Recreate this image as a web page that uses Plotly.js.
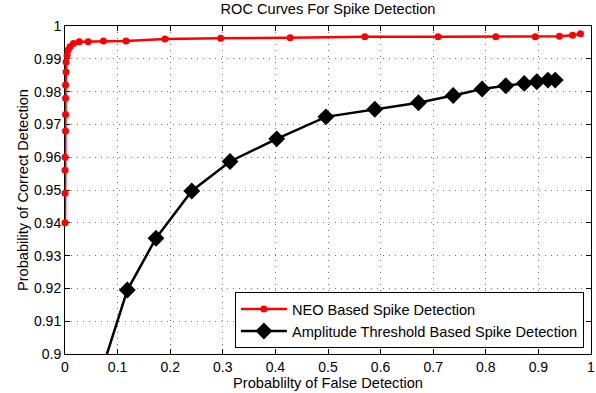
<!DOCTYPE html>
<html>
<head>
<meta charset="utf-8">
<script src="https://cdn.plot.ly/plotly-3.0.1.min.js"></script>
<style>html,body{margin:0;padding:0;background:#fff;}#chart{width:596px;height:393px;}</style>
</head>
<body>
<div id="chart"></div>
<script>
const neoX = [0,0,0,0,0.001,0.001,0.001,0.001,0.002,0.002,0.004,0.006,0.0095,0.016,0.027,0.044,0.073,0.116,0.19,0.296,0.428,0.570,0.709,0.819,0.894,0.940,0.965,0.980];
const neoY = [0.940,0.949,0.956,0.960,0.968,0.973,0.978,0.982,0.986,0.989,0.991,0.9927,0.9937,0.9947,0.9952,0.9952,0.9954,0.9954,0.9960,0.9963,0.9964,0.9967,0.9967,0.9967,0.9967,0.9969,0.9972,0.9976];
const ampX = [0.04,0.1185,0.173,0.241,0.3137,0.4025,0.496,0.589,0.672,0.738,0.793,0.838,0.873,0.897,0.918,0.932];
const ampY = [0.88,0.9195,0.9353,0.9497,0.9587,0.9656,0.9723,0.9746,0.9766,0.9788,0.9808,0.9818,0.9825,0.9830,0.9835,0.9835];
const xTickVals = [0,0.1,0.2,0.3,0.4,0.5,0.6,0.7,0.8,0.9,1];
const xTickText = ["0","0.1","0.2","0.3","0.4","0.5","0.6","0.7","0.8","0.9","1"];
const yTickVals = [0.9,0.91,0.92,0.93,0.94,0.95,0.96,0.97,0.98,0.99,1];
const yTickText = ["0.9","0.91","0.92","0.93","0.94","0.95","0.96","0.97","0.98","0.99","1"];

const fam = '"Liberation Sans", Arial, sans-serif';
const font = {family: fam, size: 14.6, color: '#000'};
const tickFont = {family: fam, size: 14, color: '#000'};
const axisCommon = {
  showline: true, linecolor: '#000', linewidth: 1, mirror: 'ticks',
  ticks: 'inside', ticklen: 5, tickcolor: '#000', tickwidth: 1,
  showgrid: true, gridcolor: '#777', gridwidth: 1, griddash: '1px,5px',
  zeroline: false, layer: 'below traces', tickfont: tickFont
};
const traces = [
  {x: neoX, y: neoY, type: 'scatter', mode: 'lines+markers', name: 'NEO Based Spike Detection',
   line: {color: '#ff0000', width: 2.5}, marker: {color: '#ff0000', size: 7, symbol: 'circle'}, cliponaxis: false},
  {x: ampX, y: ampY, type: 'scatter', mode: 'lines+markers', name: 'Amplitude Threshold Based Spike Detection',
   line: {color: '#000', width: 2.5}, marker: {color: '#000', size: 13, symbol: 'diamond'}, cliponaxis: false}
];
const layout = {
  width: 596, height: 393,
  margin: {l: 65, r: 5, t: 26, b: 39},
  paper_bgcolor: '#fff', plot_bgcolor: '#fff',
  font: font,
  title: {text: 'ROC Curves For Spike Detection', font: font, x: 0.5, xref: 'paper', y: 0.99, yanchor: 'top'},
  xaxis: Object.assign({}, axisCommon, {range: [0, 1], tickvals: xTickVals, ticktext: xTickText,
    title: {text: 'Probablilty of False Detection', font: font, standoff: 2}}),
  yaxis: Object.assign({}, axisCommon, {range: [0.9, 1], tickvals: yTickVals, ticktext: yTickText,
    title: {text: 'Probability of Correct Detection', font: font, standoff: 1}}),
  showlegend: true,
  legend: {x: 0.323, y: 0.018, xanchor: 'left', yanchor: 'bottom', bgcolor: '#fff',
    bordercolor: '#000', borderwidth: 1, font: font, tracegroupgap: 0, itemwidth: 46}
};
Plotly.newPlot('chart', traces, layout, {displayModeBar: false, staticPlot: true});
</script>
</body>
</html>
